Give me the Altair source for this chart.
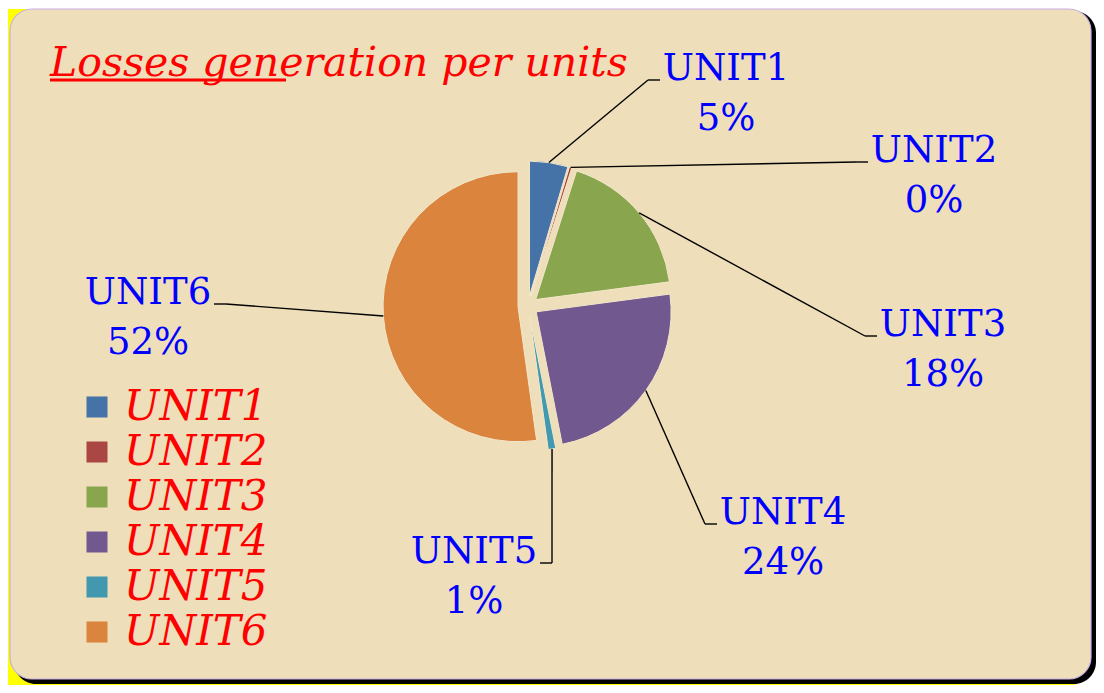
import altair as alt
import pandas as pd

# ---- data ----
units = ["UNIT1", "UNIT2", "UNIT3", "UNIT4", "UNIT5", "UNIT6"]
values = [4.6, 0.3, 18.0, 24.0, 0.9, 52.2]
colors = ["#4572A7", "#AA4643", "#89A54E", "#71588F", "#4198AF", "#DB843D"]
title_text = "Losses generation per units"

# ---- layout (label anchors relative to pie centre, px) ----
label_dx = [198, 406, 415, 255, -54, -380]
label_dy = [-226, -144, 30, 218, 257, -2]

CX, CY, R, EXPLODE = 520, 297, 135, 10
HALF = 66
PARCH = "#EEDEB9"

df = pd.DataFrame({"unit": units, "value": values, "dx": label_dx, "dy": label_dy})

base = (
    alt.Chart(df)
    .transform_joinaggregate(total="sum(value)")
    .transform_window(cum="sum(value)", sort=[alt.SortField("unit")], frame=[None, 0])
    .transform_calculate(
        a0="(datum.cum - datum.value) / datum.total * 2 * PI",
        a1="datum.cum / datum.total * 2 * PI",
    )
    .transform_calculate(mid="(datum.a0 + datum.a1) / 2")
    .transform_calculate(
        cx=f"{CX} + {EXPLODE} * sin(datum.mid)",
        cy=f"{CY} - {EXPLODE} * cos(datum.mid)",
    )
    .transform_calculate(
        ex=f"datum.cx + {R} * sin(datum.mid)",
        ey=f"datum.cy - {R} * cos(datum.mid)",
        lx=f"{CX} + datum.dx",
        ly=f"{CY} + datum.dy",
    )
    .transform_calculate(side="datum.lx > datum.ex ? 1 : -1")
    .transform_calculate(endx=f"datum.lx - datum.side * {HALF}")
    .transform_calculate(elx="datum.endx - datum.side * 12")
    .transform_calculate(label="[datum.unit, format(datum.value, '.0f') + '%']")
)

X = lambda f: alt.X(f, type="quantitative", scale=None, axis=None)
Y = lambda f: alt.Y(f, type="quantitative", scale=None, axis=None)

pie = base.mark_arc(radius=R, stroke="#F4E8CC", strokeWidth=1).encode(
    x=X("cx"),
    y=Y("cy"),
    theta=alt.Theta("a0", type="quantitative", scale=None, stack=False),
    theta2="a1:Q",
    color=alt.Color(
        "unit:N",
        scale=alt.Scale(domain=units, range=colors),
        legend=alt.Legend(
            orient="none",
            legendX=68,
            legendY=377,
            title=None,
            symbolType="square",
            symbolSize=441,
            symbolStrokeWidth=0,
            labelFont="DejaVu Serif",
            labelFontStyle="italic",
            labelFontSize=42,
            labelColor="#FF0000",
            labelOffset=6,
            rowPadding=3,
            padding=0,
        ),
    ),
)

lead1 = base.mark_rule(color="black", strokeWidth=1.4).encode(
    x=X("ex"), y=Y("ey"), x2="elx:Q", y2="ly:Q"
)
lead2 = base.mark_rule(color="black", strokeWidth=1.4).encode(
    x=X("elx"), y=Y("ly"), x2="endx:Q", y2="ly:Q"
)

labels = base.mark_text(
    font="DejaVu Serif", fontSize=37, color="#0000FF", align="center",
    baseline="alphabetic", lineHeight=50,
).encode(x=X("lx"), y=Y("ly"), text="label:N")

one = pd.DataFrame({"t": [title_text]})
bg = alt.Chart(one).mark_rect(color="#FFFF00").encode(
    x=alt.value(0), x2=alt.value(1067), y=alt.value(0), y2=alt.value(677)
)
shadow = alt.Chart(one).mark_rect(color="#000000", cornerRadius=22).encode(
    x=alt.value(6), x2=alt.value(1088), y=alt.value(2), y2=alt.value(675)
)
card = alt.Chart(one).mark_rect(
    color=PARCH, cornerRadius=22, stroke="#C9B0E8", strokeWidth=1.2
).encode(x=alt.value(2), x2=alt.value(1083), y=alt.value(0), y2=alt.value(670))

title = alt.Chart(one).mark_text(
    font="DejaVu Serif", fontStyle="italic", fontSize=41, color="#FF0000",
    align="left", baseline="alphabetic",
).encode(x=alt.value(42), y=alt.value(67), text="t:N")
underline = alt.Chart(one).mark_rule(color="#FF0000", strokeWidth=3).encode(
    x=alt.value(42), x2=alt.value(278), y=alt.value(71)
)

chart = alt.layer(
    bg, shadow, card, pie, lead1, lead2, labels, title, underline
).properties(
    width=1088, height=677, padding=0, background="white",
    autosize=alt.AutoSizeParams(type="fit", contains="padding"),
).configure_view(strokeWidth=0)

chart.save("out.html", embed_options={"renderer": "svg", "actions": False})
